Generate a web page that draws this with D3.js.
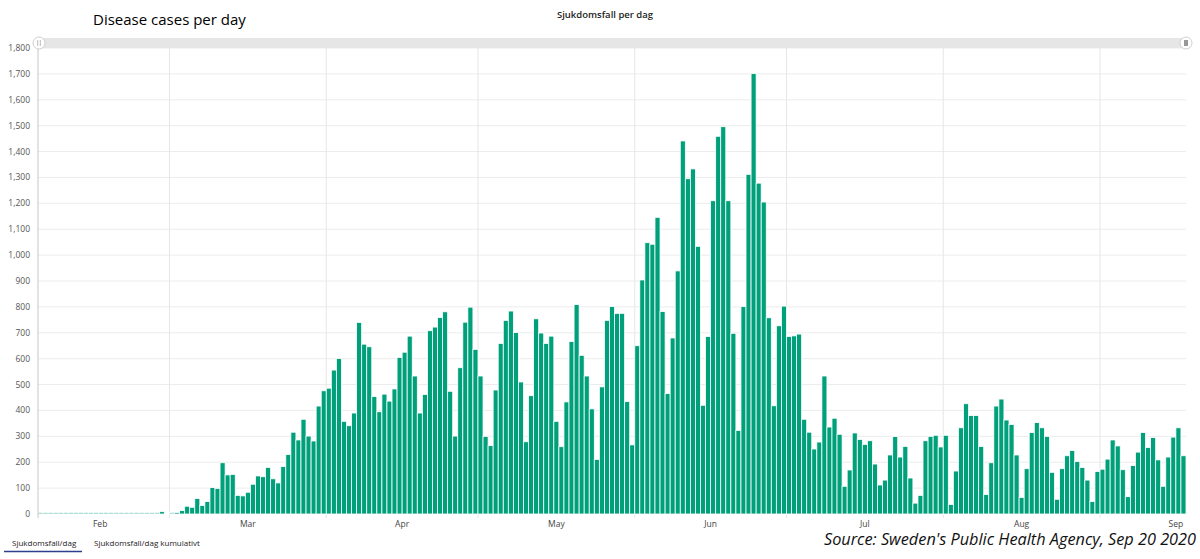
<!DOCTYPE html>
<html>
<head>
<meta charset="utf-8">
<script src="https://cdn.jsdelivr.net/npm/d3@7"></script>
<style>
  body { margin: 0; background: #fff; }
  svg { display: block; font-family: "Open Sans", "Noto Sans", sans-serif; }
</style>
</head>
<body>
<svg width="1200" height="559"></svg>
<script>
// Daily cases, one value per day starting 2020-02-04
const startDate = "2020-02-04"
const cases = [
  0,0,0,0,0,0,0,0,0,0,0,0,0,0,0,0,0,0,0,0,0,0,0,0,
  9,3,0,6,13,30,26,60,33,48,102,99,198,151,153,72,70,84,115,147,144,180,136,120,183,230,316,286,
  366,301,282,417,476,486,556,601,358,341,390,740,656,646,454,395,463,436,483,605,625,687,533,390,462,708,722,759,781,474,301,565,741,799,636,
  533,300,264,479,659,748,784,701,510,279,457,754,699,659,687,358,260,433,666,809,613,533,406,211,491,748,801,775,775,434,267,
  650,904,1048,1042,1146,782,465,680,939,1441,1295,1333,1034,420,686,1210,1459,1496,1210,698,323,801,1312,1701,1278,1205,758,418,727,803,
  686,688,695,366,316,251,278,533,336,370,308,107,170,313,288,269,283,193,112,131,228,299,220,261,139,42,72,283,300,304,259,
  304,37,166,333,426,380,380,261,75,198,417,444,363,346,228,64,175,315,353,333,300,161,57,175,225,245,203,180,131,48,164,
  173,212,286,263,171,67,187,239,315,257,295,209,107,220,297,333,225
]
const yTicks = d3.range(0, 1801, 100)
const monthLabels = ["Feb", "Mar", "Apr", "May", "Jun", "Jul", "Aug", "Sep"]

const svg = d3.select("svg"),
    width = +svg.attr("width"),
    height = +svg.attr("height");

const margin = {left: 38, right: 14, top: 48, bottom: 45}

const t0 = d3.timeParse("%Y-%m-%d")(startDate)
const data = cases.map((v, i) => ({date: d3.timeDay.offset(t0, i), value: v}))
const tEnd = d3.timeDay.offset(t0, cases.length)

const x = d3.scaleTime()
    .domain([t0, tEnd])
    .range([margin.left, width - margin.right])

const y = d3.scaleLinear()
    .domain([0, 1800])
    .range([height - margin.bottom, margin.top])

// horizontal grid
svg.append("g")
  .selectAll("line")
  .data(yTicks.slice(1))
  .join("line")
    .attr("x1", margin.left)
    .attr("x2", width - margin.right)
    .attr("y1", d => y(d))
    .attr("y2", d => y(d))
    .attr("stroke", "#ececec")

// vertical grid at month starts
const months = d3.timeMonth.range(d3.timeMonth.ceil(t0), tEnd)
svg.append("g")
  .selectAll("line")
  .data(months)
  .join("line")
    .attr("x1", d => x(d))
    .attr("x2", d => x(d))
    .attr("y1", margin.top)
    .attr("y2", y(0) + 4)
    .attr("stroke", "#e6e6e6")

// y labels
svg.append("g")
  .selectAll("text")
  .data(yTicks)
  .join("text")
    .attr("x", margin.left - 8)
    .attr("y", d => y(d))
    .attr("dy", "0.35em")
    .attr("text-anchor", "end")
    .style("font-size", "8.5px")
    .style("fill", "#555")
    .text(d3.format(","))

// month labels centred in each month
const monthStarts = d3.timeMonth.range(d3.timeMonth.floor(t0), d3.timeMonth.offset(tEnd, 1))
svg.append("g")
  .selectAll("text")
  .data(monthStarts.slice(0, monthLabels.length))
  .join("text")
    .attr("x", (d, i) => {
      const mid = new Date((+d + +d3.timeMonth.offset(d, 1)) / 2)
      return x(mid) + (i === 0 ? 4 : 0)
    })
    .attr("y", y(0) + 13)
    .attr("text-anchor", "middle")
    .style("font-size", "8.5px")
    .style("fill", "#444")
    .text((d, i) => monthLabels[i])

// bars
svg.append("g")
  .selectAll("rect")
  .data(data)
  .join("rect")
    .attr("x", d => x(d.date))
    .attr("width", d => x(d3.timeDay.offset(d.date, 1)) - x(d.date))
    .attr("y", d => d.value > 0 ? y(d.value) : y(0) - 1.5)
    .attr("height", d => d.value > 0 ? y(0) - y(d.value) : 1.5)
    .attr("fill", "#00a07b")
    .attr("fill-opacity", d => d.value > 0 ? 1 : 0.45)
    .attr("stroke", "#fff")
    .attr("stroke-width", d => d.value > 0 ? 0.8 : 0.6)

// y axis line
svg.append("line")
    .attr("x1", margin.left).attr("x2", margin.left)
    .attr("y1", margin.top).attr("y2", y(0) + 4)
    .attr("stroke", "#c8c8c8")

// navigator / scrollbar on top
svg.append("rect")
    .attr("x", margin.left)
    .attr("y", 38)
    .attr("width", width - margin.right - margin.left)
    .attr("height", 10)
    .attr("fill", "#e6e6e6")

const handles = [margin.left + 1, width - margin.right]
handles.forEach((hx, i) => {
  svg.append("circle")
      .attr("cx", hx).attr("cy", 43).attr("r", 6)
      .attr("fill", "#fff")
      .attr("stroke", "#d0d0d0")
  if (i === 0) {
    [-1.3, 1.3].forEach(dx => svg.append("line")
        .attr("x1", hx + dx).attr("x2", hx + dx)
        .attr("y1", 40).attr("y2", 46)
        .attr("stroke", "#bbb"))
  } else {
    svg.append("rect")
        .attr("x", hx - 2).attr("y", 40)
        .attr("width", 4).attr("height", 6)
        .attr("fill", "#999")
  }
})

// titles
svg.append("text")
    .attr("x", 93)
    .attr("y", 25)
    .style("font-size", "15px")
    .style("fill", "#000")
    .text("Disease cases per day")

svg.append("text")
    .attr("x", 605)
    .attr("y", 18)
    .attr("text-anchor", "middle")
    .style("font-size", "9.5px")
    .style("font-weight", "600")
    .style("fill", "#222")
    .text("Sjukdomsfall per dag")

// tabs at the bottom
svg.append("text")
    .attr("x", 12).attr("y", 546)
    .style("font-size", "8px")
    .style("fill", "#222")
    .text("Sjukdomsfall/dag")
svg.append("line")
    .attr("x1", 4).attr("x2", 82)
    .attr("y1", 551.5).attr("y2", 551.5)
    .attr("stroke", "#2e3f8f")
    .attr("stroke-width", 1.5)
svg.append("text")
    .attr("x", 94).attr("y", 546)
    .style("font-size", "8px")
    .style("fill", "#222")
    .text("Sjukdomsfall/dag kumulativt")

// source
svg.append("text")
    .attr("x", 1196)
    .attr("y", 545)
    .attr("text-anchor", "end")
    .style("font-size", "16.3px")
    .style("font-style", "italic")
    .style("fill", "#111")
    .text("Source: Sweden's Public Health Agency, Sep 20 2020")
</script>
</body>
</html>
